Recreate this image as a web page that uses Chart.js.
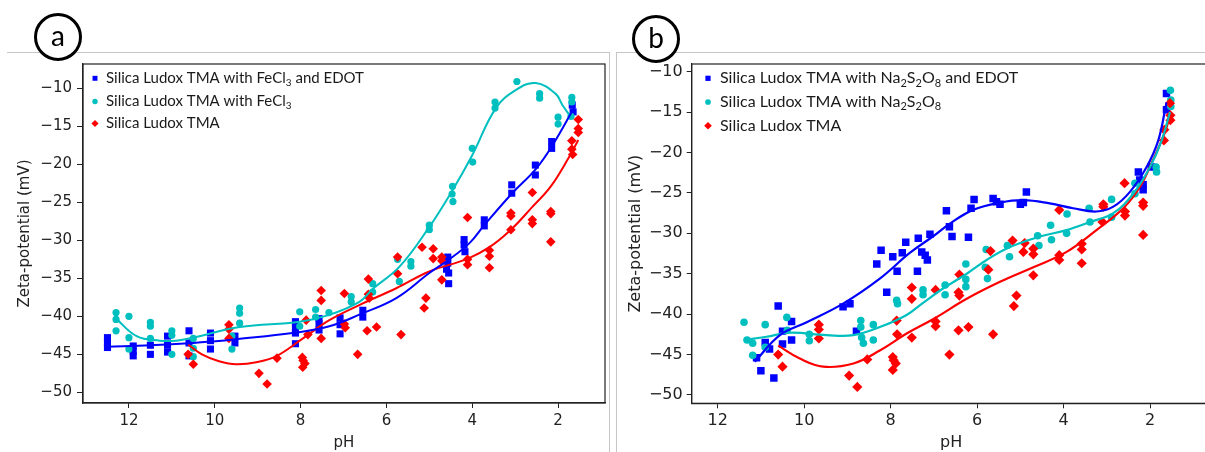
<!DOCTYPE html>
<html><head><meta charset="utf-8">
<script src="https://cdn.jsdelivr.net/npm/chart.js@4.4.0/dist/chart.umd.min.js"></script>
<style>
html,body{margin:0;padding:0;background:#fff;overflow:hidden;width:1205px;height:452px;}
#wrap{position:relative;width:1205px;height:452px;overflow:hidden;background:#fff;}
.hl{position:absolute;height:1px;background:#c6c6c6;}
.vl{position:absolute;width:1px;background:#c6c6c6;}
.box{position:absolute;top:0;height:452px;}
.circ{position:absolute;width:42px;height:42px;border:3px solid #000;border-radius:50%;font-family:Lato,"Open Sans",sans-serif;font-size:28px;line-height:38px;text-align:center;color:#000;background:#fff;}
</style></head>
<body><div id="wrap">
<div class="hl" style="left:7px;top:52px;width:603px"></div>
<div class="vl" style="left:609px;top:52px;height:400px"></div>
<div class="hl" style="left:616px;top:52px;width:589px"></div>
<div class="vl" style="left:616px;top:52px;height:400px"></div>
<div class="box" style="left:0;width:610px"><canvas id="chartA" width="610" height="452"></canvas></div>
<div class="box" style="left:616px;width:600px"><canvas id="chartB" width="600" height="452"></canvas></div>
<div class="circ" style="left:34px;top:13px">a</div>
<div class="circ" style="left:632px;top:15px">b</div>
</div>
<script>
// ---------- tick labels ----------
const xTicks = [12, 10, 8, 6, 4, 2];
const yTicks = [-50, -45, -40, -35, -30, -25, -20, -15, -10];

// ---------- panel a : [pH, zeta (mV)] ----------
const aBlue = [[12.5,-42.8],[12.5,-43.5],[12.5,-44.1],[11.9,-43.9],[11.9,-44.6],[11.9,-45.2],[11.5,-43.8],[11.5,-45.0],
  [11.1,-42.6],[11.1,-43.8],[11.1,-44.7],[10.6,-41.9],[10.6,-43.5],[10.6,-45.2],[10.1,-42.2],[10.1,-43.2],[10.1,-44.3],
  [9.53,-42.6],[9.53,-43.5],[8.12,-40.7],[8.12,-41.5],[8.12,-42.2],[8.12,-43.6],[7.57,-40.3],[7.57,-41.0],[7.57,-41.8],
  [7.08,-40.2],[7.08,-41.1],[7.08,-42.3],[6.55,-39.2],[6.55,-40.1],[4.57,-32.2],[4.57,-33.0],[4.6,-33.8],[4.55,-34.3],
  [4.55,-35.7],[4.19,-29.9],[4.19,-30.6],[4.17,-31.5],[3.72,-27.3],[3.72,-28.1],[3.08,-22.7],[3.08,-23.8],[2.53,-20.1],
  [2.53,-21.4],[2.15,-17.0],[2.15,-17.9],[1.67,-12.2],[1.65,-13.1]];
const aCyan = [[12.3,-39.5],[12.3,-40.4],[12.3,-41.9],[12.0,-40.0],[12.0,-42.8],[12.0,-44.3],[11.5,-40.8],[11.5,-41.3],
  [11.5,-42.9],[11.0,-41.9],[11.0,-42.5],[11.0,-45.0],[10.5,-42.9],[10.5,-44.2],[10.5,-45.3],[9.6,-42.6],[9.6,-44.3],
  [9.42,-38.9],[9.42,-39.6],[9.42,-40.9],[8.02,-39.4],[8.02,-41.3],[7.65,-39.1],[7.65,-40.1],[7.34,-39.5],[6.82,-37.4],
  [6.82,-38.1],[6.32,-35.7],[6.32,-36.8],[5.74,-32.5],[5.7,-35.4],[5.43,-32.8],[5.43,-33.4],[5.0,-28.0],[5.0,-28.6],
  [4.46,-22.9],[4.47,-23.9],[4.45,-24.9],[4.0,-17.9],[3.99,-19.7],[3.47,-11.8],[3.47,-12.6],[2.96,-9.1],[2.43,-10.7],
  [2.43,-11.3],[2.0,-13.8],[2.0,-14.7],[1.68,-11.2],[1.68,-11.8],[1.7,-13.7]];
const aRed = [[10.62,-45.0],[10.5,-46.3],[9.67,-41.1],[9.67,-41.7],[9.67,-42.9],[8.97,-47.5],[8.78,-48.9],[8.55,-45.5],
  [7.96,-45.4],[7.94,-45.8],[7.9,-46.2],[7.95,-46.7],[7.83,-42.4],[7.87,-40.5],[7.52,-36.6],[7.52,-37.9],[7.52,-42.9],
  [6.98,-37.0],[6.98,-41.0],[6.96,-41.5],[6.67,-45.0],[6.45,-41.9],[6.42,-35.1],[6.42,-37.1],[6.4,-37.6],[6.23,-41.4],
  [5.74,-32.2],[5.74,-34.4],[5.66,-42.4],[5.17,-30.9],[5.12,-38.9],[5.08,-37.6],[4.91,-31.1],[4.91,-32.4],[4.71,-32.2],
  [4.71,-32.7],[4.71,-35.2],[4.11,-27.0],[4.11,-32.5],[4.11,-33.2],[3.6,-31.3],[3.6,-32.1],[3.6,-33.6],[3.1,-26.4],
  [3.1,-26.8],[3.1,-28.6],[2.6,-23.7],[2.6,-27.3],[2.6,-27.8],[2.17,-26.2],[2.17,-26.5],[2.17,-30.2],[1.68,-16.9],
  [1.68,-18.0],[1.66,-18.7],[1.53,-14.1],[1.53,-15.3],[1.53,-15.8]];
const aBlueFit = [[12.5,-44.0],[11.5,-43.8],[10.5,-43.5],[10.05,-43.3],[9.5,-43.0],[8.19,-42.2],[7.33,-41.3],[6.6,-39.7],
  [5.77,-37.6],[5.0,-34.3],[4.61,-32.8],[4.07,-30.4],[3.72,-28.0],[3.07,-23.8],[2.53,-20.7],[2.13,-17.5],[1.63,-12.6]];
const aCyanFit = [[12.3,-40.3],[11.82,-42.6],[11.28,-43.2],[10.9,-43.2],[10.5,-42.8],[9.42,-41.4],[8.02,-40.7],[7.33,-39.8],
  [6.63,-38.1],[6.32,-36.4],[5.7,-33.5],[5.02,-28.4],[4.46,-23.4],[4.0,-18.8],[3.45,-12.6],[2.98,-10.2],[2.52,-9.3],
  [2.06,-10.7],[1.9,-12.2],[1.71,-13.7]];
const aRedFit = [[10.62,-43.7],[10.3,-45.0],[9.9,-45.9],[9.5,-46.3],[9.0,-46.0],[8.55,-45.2],[7.97,-43.0],[7.33,-40.5],
  [6.55,-38.3],[5.77,-36.3],[5.0,-34.1],[4.1,-32.4],[3.6,-30.9],[3.1,-28.6],[2.6,-25.6],[2.17,-22.9],[1.74,-19.0],[1.53,-16.8]];

// ---------- panel b : [pH, zeta (mV)] ----------
const bBlue = [[11.1,-45.4],[11.0,-47.0],[10.9,-43.5],[10.8,-44.3],[10.7,-47.9],[10.6,-39.0],[10.5,-42.1],[10.5,-43.7],
  [10.29,-40.9],[10.29,-43.2],[9.1,-39.1],[8.94,-38.7],[8.79,-42.1],[8.32,-33.8],[8.22,-32.1],[8.09,-37.3],[7.95,-32.9],
  [7.85,-34.7],[7.73,-32.4],[7.65,-31.1],[7.38,-34.7],[7.36,-30.6],[7.28,-32.3],[7.2,-32.7],[7.15,-33.3],[7.09,-30.1],
  [6.71,-27.2],[6.64,-29.2],[6.58,-30.4],[6.2,-30.5],[6.14,-26.9],[6.07,-25.8],[5.63,-25.7],[5.55,-26.1],[5.47,-26.4],
  [5.0,-26.4],[4.93,-26.2],[4.86,-24.9],[2.27,-22.4],[2.24,-23.4],[2.16,-24.0],[2.16,-24.6],[1.97,-21.8],[1.62,-14.7],[1.62,-12.7]];
const bCyan = [[11.39,-41.0],[11.32,-43.2],[11.19,-43.6],[11.19,-45.1],[10.9,-41.3],[10.9,-44.1],[10.4,-40.4],[10.39,-42.0],
  [9.88,-42.5],[9.88,-43.3],[8.69,-40.8],[8.69,-41.6],[8.67,-42.9],[8.63,-43.6],[8.4,-41.3],[8.4,-43.2],[7.86,-38.3],
  [7.84,-38.7],[7.25,-37.0],[7.25,-37.6],[6.74,-36.4],[6.74,-37.6],[6.26,-33.8],[6.26,-35.7],[6.26,-36.6],[5.79,-32.0],
  [5.81,-34.2],[5.76,-35.6],[5.3,-31.5],[5.25,-32.9],[4.6,-30.3],[4.57,-31.5],[4.3,-29.0],[4.28,-30.8],[3.92,-27.6],
  [3.93,-30.0],[3.41,-26.9],[3.39,-28.6],[2.89,-25.8],[2.89,-28.0],[2.35,-23.8],[2.35,-25.1],[1.86,-21.8],[1.85,-22.4],
  [1.53,-12.3],[1.52,-13.5],[1.52,-14.3]];
const bRed = [[10.6,-45.0],[10.5,-46.5],[9.66,-41.3],[9.66,-41.9],[9.66,-43.0],[8.96,-47.6],[8.77,-49.0],[8.54,-45.6],
  [7.95,-45.3],[7.93,-45.7],[7.88,-46.1],[7.95,-46.9],[7.86,-40.8],[7.85,-42.5],[7.51,-36.7],[7.51,-38.1],[7.51,-42.9],
  [6.96,-37.0],[6.96,-40.9],[6.96,-41.5],[6.64,-45.0],[6.43,-37.3],[6.41,-37.7],[6.43,-42.0],[6.41,-35.1],[6.2,-41.6],
  [5.74,-34.5],[5.69,-32.2],[5.63,-42.5],[5.18,-30.9],[5.15,-39.0],[5.09,-37.7],[4.93,-32.3],[4.9,-31.2],[4.7,-31.9],
  [4.7,-32.6],[4.7,-35.2],[4.1,-27.1],[4.1,-32.7],[4.1,-33.3],[3.58,-31.3],[3.58,-32.0],[3.58,-33.7],[3.08,-26.4],
  [3.08,-26.7],[3.1,-28.6],[2.59,-23.8],[2.58,-27.3],[2.58,-27.8],[2.16,-26.2],[2.16,-26.6],[2.16,-30.2],[1.67,-17.2],
  [1.68,-18.5],[1.54,-13.9],[1.53,-15.4],[1.53,-16.0]];
const bBlueFit = [[11.14,-45.9],[10.56,-42.6],[9.94,-41.0],[9.1,-38.7],[8.25,-35.6],[7.55,-32.4],[7.0,-30.3],[6.63,-28.8],
  [6.09,-27.1],[5.47,-26.2],[4.93,-25.9],[4.32,-26.3],[3.78,-26.9],[3.24,-27.3],[2.85,-26.7],[2.47,-24.9],[2.08,-21.8],
  [1.81,-18.5],[1.62,-13.8]];
const bCyanFit = [[11.4,-43.2],[10.87,-42.8],[10.33,-42.3],[9.48,-42.6],[8.86,-42.6],[8.25,-41.6],[7.63,-40.1],[7.25,-38.6],
  [6.78,-36.8],[6.24,-35.0],[5.78,-33.3],[5.24,-31.7],[4.55,-30.4],[3.93,-29.6],[3.39,-28.6],[2.85,-27.5],[2.39,-25.1],
  [2.0,-21.8],[1.73,-18.5],[1.54,-15.0]];
const bRedFit = [[10.6,-43.9],[10.1,-45.5],[9.56,-46.5],[8.86,-46.1],[8.25,-44.5],[7.63,-42.4],[7.01,-40.6],[6.24,-38.1],
  [5.47,-36.0],[4.7,-34.2],[3.93,-32.3],[3.24,-29.6],[2.62,-26.9],[2.24,-24.3],[1.93,-20.9],[1.7,-18.1],[1.54,-15.6]];

// ---------- legend labels (text, isSubscript) ----------
const aLabels = [
  [['Silica Ludox TMA with FeCl',0],['3',1],[' and EDOT',0]],
  [['Silica Ludox TMA with FeCl',0],['3',1]],
  [['Silica Ludox TMA',0]]
];
const bLabels = [
  [['Silica Ludox TMA with Na',0],['2',1],['S',0],['2',1],['O',0],['8',1],[' and EDOT',0]],
  [['Silica Ludox TMA with Na',0],['2',1],['S',0],['2',1],['O',0],['8',1]],
  [['Silica Ludox TMA',0]]
];
const yTitle = 'Zeta-potential (mV)';
const xTitle = 'pH';

const BLUE = '#0000ff', CYAN = '#00bfbf', RED = '#ff0000', INK = '#222222';
const fmt = v => (v < 0 ? '\u2212' + Math.abs(v) : String(v));
const pts = arr => arr.map(([x, y]) => ({x, y}));

const framePlugin = {
  id: 'frame',
  afterDatasetsDraw(chart, args, o) {
    const {ctx, chartArea: a} = chart;
    ctx.save();
    ctx.strokeStyle = o.color; ctx.lineWidth = o.width;
    ctx.strokeRect(a.left, a.top, a.right - a.left, a.bottom - a.top);
    ctx.restore();
  }
};
const legendPlugin = {
  id: 'insideLegend',
  afterDraw(chart, args, o) {
    const ctx = chart.ctx;
    ctx.save();
    o.items.forEach((it, i) => {
      const y = o.rows[i];
      ctx.fillStyle = it.color;
      Chart.helpers.drawPoint(ctx, {pointStyle: it.style, radius: it.r, rotation: 0, borderWidth: 0}, o.markerX, y);
      let x = o.textX;
      ctx.fillStyle = o.color;
      ctx.textBaseline = 'middle';
      ctx.textAlign = 'left';
      it.parts.forEach(([t, sub]) => {
        ctx.font = (sub ? o.subSize : o.size) + 'px ' + o.family;
        ctx.fillText(t, x, y + (sub ? o.subShift : 0));
        x += ctx.measureText(t).width;
      });
    });
    ctx.restore();
  }
};

function build(id, c) {
  const scatter = (data, style, r, color, order) => ({
    data: pts(data), pointStyle: style, pointRadius: r, pointHoverRadius: r,
    backgroundColor: color, borderColor: color, pointBorderWidth: 0, borderWidth: 0, showLine: false, order
  });
  const line = (data, color, order) => ({
    data: pts(data), showLine: true, borderColor: color, backgroundColor: color, borderWidth: c.lw,
    pointRadius: 0, pointHoverRadius: 0, tension: 0.4, fill: false, order
  });
  const tickFont = {family: 'DejaVu Sans', size: c.fs};
  new Chart(document.getElementById(id), {
    type: 'scatter',
    data: {datasets: [
      line(c.blueFit, BLUE, 0), line(c.cyanFit, CYAN, 1), line(c.redFit, RED, 2),
      scatter(c.red, 'rectRot', c.dR, RED, 3), scatter(c.cyan, 'circle', c.cR, CYAN, 4), scatter(c.blue, 'rect', c.sR, BLUE, 5)
    ]},
    options: {
      responsive: false, animation: false, devicePixelRatio: 1,
      layout: {padding: {left: c.padL, top: 64, right: c.padR, bottom: 0}},
      plugins: {
        legend: {display: false}, tooltip: {enabled: false},
        frame: {color: INK, width: 1.2},
        insideLegend: {
          markerX: c.legX, textX: c.legTX, rows: c.legRows, family: 'Lato', size: c.legFs,
          subSize: Math.round(c.legFs * 0.66), subShift: c.legFs * 0.3, color: '#1a1a1a',
          items: [
            {style: 'rect', r: c.sR * 0.7, color: BLUE, parts: c.labels[0]},
            {style: 'circle', r: c.cR * 0.75, color: CYAN, parts: c.labels[1]},
            {style: 'rectRot', r: c.dR * 0.75, color: RED, parts: c.labels[2]}
          ]
        }
      },
      scales: {
        x: {
          type: 'linear', reverse: true, min: c.xmin, max: c.xmax,
          afterBuildTicks: s => { s.ticks = xTicks.map(v => ({value: v})); },
          afterFit: s => { s.height = c.xh; },
          ticks: {font: tickFont, color: INK, padding: c.xpad, maxRotation: 0, autoSkip: false, callback: v => fmt(v)},
          grid: {display: true, drawOnChartArea: false, drawTicks: true, tickLength: 5, color: INK, lineWidth: 1},
          border: {display: true, color: INK, width: 1.2},
          title: {display: true, text: xTitle, font: tickFont, color: INK, padding: {top: 0, bottom: 0}}
        },
        y: {
          type: 'linear', min: c.ymin, max: c.ymax,
          afterBuildTicks: s => { s.ticks = yTicks.map(v => ({value: v})); },
          afterFit: s => { s.width = c.yw; },
          ticks: {font: tickFont, color: INK, padding: c.ypad, autoSkip: false, callback: v => fmt(v)},
          grid: {display: true, drawOnChartArea: false, drawTicks: true, tickLength: c.ytl, color: INK, lineWidth: 1},
          border: {display: true, color: INK, width: 1.2},
          title: {display: true, text: yTitle, font: tickFont, color: INK, padding: {top: 4, bottom: 0}}
        }
      }
    },
    plugins: [framePlugin, legendPlugin]
  });
}

build('chartA', {
  blue: aBlue, cyan: aCyan, red: aRed, blueFit: aBlueFit, cyanFit: aCyanFit, redFit: aRedFit, labels: aLabels,
  xmin: 0.907, xmax: 13.07, ymin: -51.4, ymax: -6.8, padL: 12, padR: 4, yw: 71, xh: 49,
  fs: 15, xpad: 4, ypad: 5, ytl: 6, lw: 2, sR: 5, cR: 3.6, dR: 4.8,
  legX: 95, legTX: 106, legRows: [78.3, 101.5, 123.5], legFs: 15
});
build('chartB', {
  blue: bBlue, cyan: bCyan, red: bRed, blueFit: bBlueFit, cyanFit: bCyanFit, redFit: bRedFit, labels: bLabels,
  xmin: 0.6, xmax: 12.6, ymin: -51.03, ymax: -9.05, padL: 6.4, padR: 5.4, yw: 69.3, xh: 48.7,
  fs: 16, xpad: 3, ypad: 4, ytl: 5, lw: 2.2, sR: 5.3, cR: 3.8, dR: 5.1,
  legX: 92, legTX: 104, legRows: [78.3, 102, 125.7], legFs: 16
});
</script>
</body></html>
